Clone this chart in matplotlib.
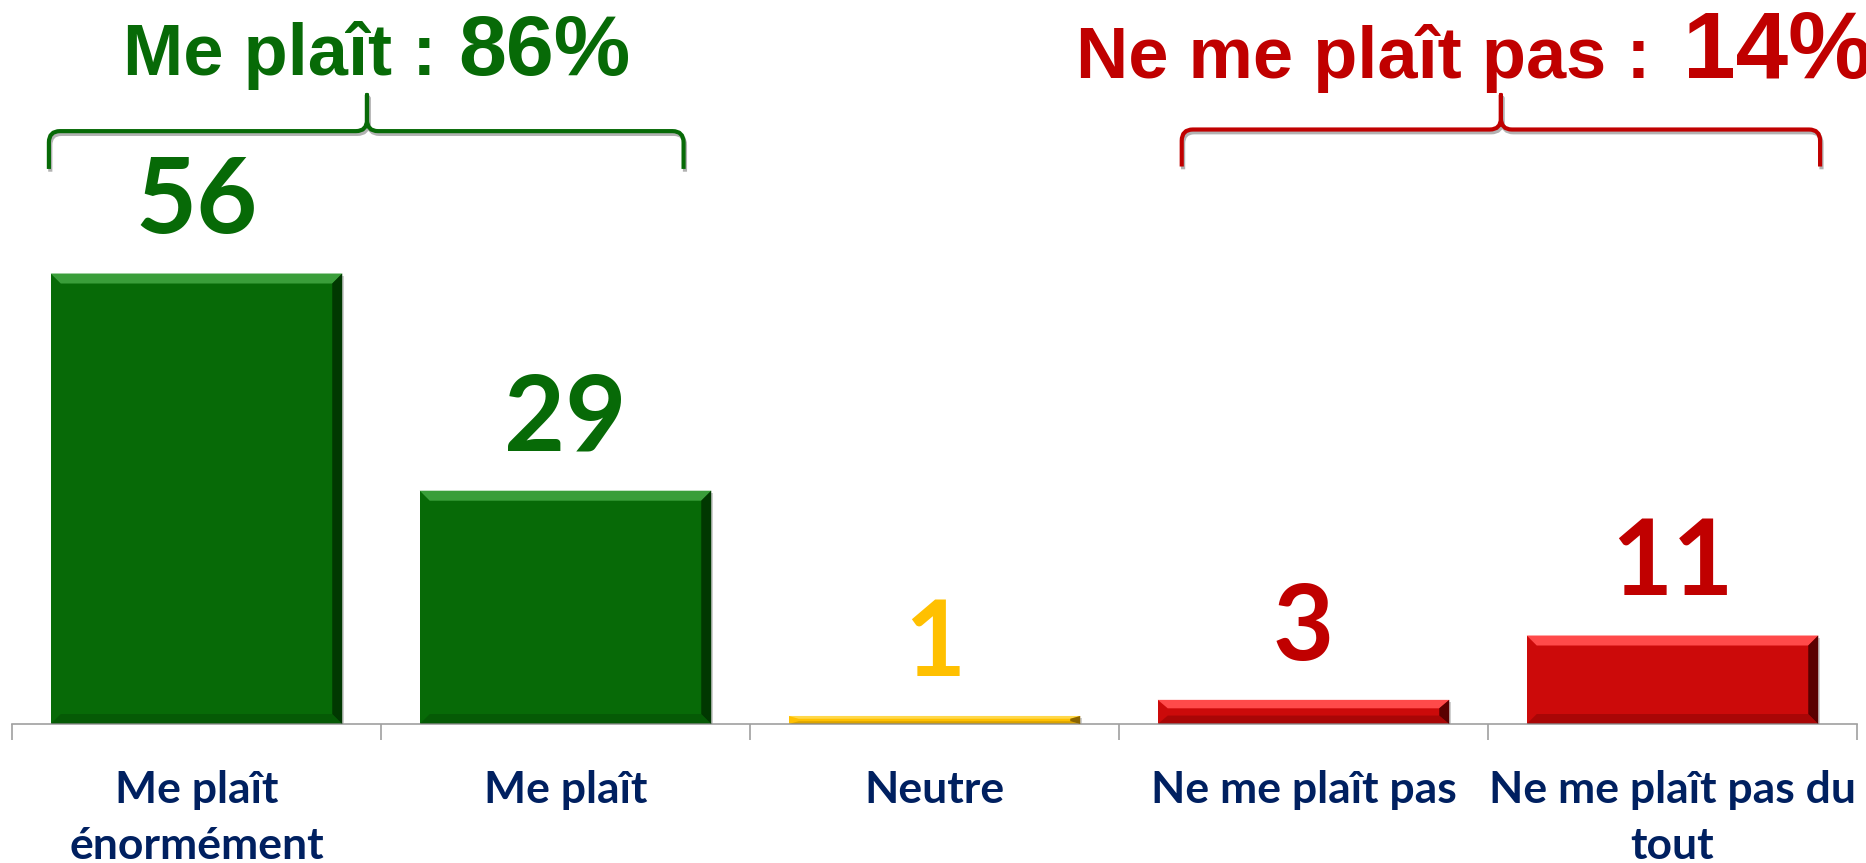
import matplotlib
matplotlib.use("Agg")
import matplotlib.pyplot as plt
import matplotlib.patheffects as pe
from matplotlib.path import Path
from matplotlib.patches import PathPatch, Polygon

# données
categories = ["Me plaît\nénormément", "Me plaît", "Neutre",
              "Ne me plaît pas", "Ne me plaît pas du\ntout"]
values = [56, 29, 1, 3, 11]
groups = ["Me plaît :", "Ne me plaît pas :"]
group_totals = ["86%", "14%"]

green = "#076a07"
red = "#cc0a0a"
yellow = "#ffc000"
bar_colors = [green, green, yellow, red, red]
light_colors = ["#3a9e3a", "#3a9e3a", "#ffd84a", "#ff4a4a", "#ff4a4a"]
dark_colors = ["#013801", "#013801", "#8a6400", "#5a0000", "#5a0000"]
label_colors = [green, green, yellow, "#c00000", "#c00000"]
navy = "#002060"

fig = plt.figure(figsize=(18.66, 8.63), dpi=100)
ax = fig.add_axes([12 / 1866, 139 / 863, 1845 / 1866, 724 / 863])
ax.set_xlim(-0.5, 4.5)
ax.set_ylim(0, 90)

x = range(len(values))
bars = ax.bar(x, values, width=0.79, color=bar_colors, zorder=2)
for b in bars:
    b.set_path_effects([pe.SimplePatchShadow(offset=(1.5, -1.5), shadow_rgbFace="#888888", alpha=0.4),
                        pe.Normal()])

# biseau sur chaque barre
dx = 10 * 5 / 1845
dy_full = 10 * 90 / 724
for b, lc, dc in zip(bars, light_colors, dark_colors):
    x0, w, h = b.get_x(), b.get_width(), b.get_height()
    dy = min(dy_full, h * 0.35)
    ax.add_patch(Polygon([(x0, h), (x0 + w, h), (x0 + w - dx, h - dy), (x0 + dx, h - dy)],
                         closed=True, color=lc, lw=0, zorder=3))
    ax.add_patch(Polygon([(x0 + w, h), (x0 + w, 0), (x0 + w - dx, dy), (x0 + w - dx, h - dy)],
                         closed=True, color=dc, lw=0, zorder=3))
    ax.add_patch(Polygon([(x0, 0), (x0 + w, 0), (x0 + w - dx, dy), (x0 + dx, dy)],
                         closed=True, color=dc, alpha=0.3, lw=0, zorder=3))

for b, v, c in zip(bars, values, label_colors):
    ax.annotate(str(v), (b.get_x() + b.get_width() / 2, v), xytext=(0, 29),
                textcoords="offset points", ha="center", va="baseline",
                fontsize=76, fontweight="bold", family="Lato", color=c)

# axes
for s in ["top", "right", "left"]:
    ax.spines[s].set_visible(False)
ax.spines["bottom"].set_color("#a0a0a0")
ax.spines["bottom"].set_linewidth(1.2)
ax.set_yticks([])
ax.set_xticks(list(x))
ax.set_xticklabels(categories, fontsize=32, fontweight="bold", family="Lato",
                   color=navy, linespacing=1.5, va="top")
ax.tick_params(axis="x", which="major", length=0, pad=33)
ax.set_xticks([i - 0.5 for i in range(len(values) + 1)], minor=True)
ax.tick_params(axis="x", which="minor", length=11.5, width=1.2, color="#a0a0a0")


def brace(x0, x1, xm, y_end, y_h, y_peak, color):
    rx, ry = 0.03, 1.4
    verts = [(x0, y_end), (x0, y_h - ry), (x0, y_h), (x0 + rx, y_h),
             (xm - rx, y_h), (xm, y_h), (xm, y_h + ry), (xm, y_peak),
             (xm, y_h + ry), (xm, y_h), (xm + rx, y_h),
             (x1 - rx, y_h), (x1, y_h), (x1, y_h - ry), (x1, y_end)]
    codes = [Path.MOVETO, Path.LINETO, Path.CURVE3, Path.CURVE3,
             Path.LINETO, Path.CURVE3, Path.CURVE3, Path.LINETO,
             Path.LINETO, Path.CURVE3, Path.CURVE3,
             Path.LINETO, Path.CURVE3, Path.CURVE3, Path.LINETO]
    p = PathPatch(Path(verts, codes), fill=False, edgecolor=color, lw=3,
                  capstyle="butt", joinstyle="round", clip_on=False, zorder=4)
    p.set_path_effects([pe.SimpleLineShadow(offset=(1, -2), alpha=0.3), pe.Normal()])
    ax.add_patch(p)


brace(-0.40, 1.32, 0.462, 69.0, 73.7, 78.2, green)
brace(2.67, 4.40, 3.535, 69.3, 73.9, 78.2, "#c00000")

tfam = ["Liberation Sans Narrow", "Liberation Sans"]
fig.text(436 / 1866, 1 - 75 / 863, groups[0], ha="right", va="baseline",
         fontsize=52, fontweight="bold", family=tfam, color=green)
fig.text(458 / 1866, 1 - 75 / 863, group_totals[0], ha="left", va="baseline",
         fontsize=62, fontweight="bold", family=tfam, color=green)
fig.text(1650 / 1866, 1 - 78 / 863, groups[1], ha="right", va="baseline",
         fontsize=52, fontweight="bold", family=tfam, color="#c00000")
fig.text(1683 / 1866, 1 - 78 / 863, group_totals[1], ha="left", va="baseline",
         fontsize=68, fontweight="bold", family=tfam, color="#c00000")

fig.savefig("out.png", dpi=100)
